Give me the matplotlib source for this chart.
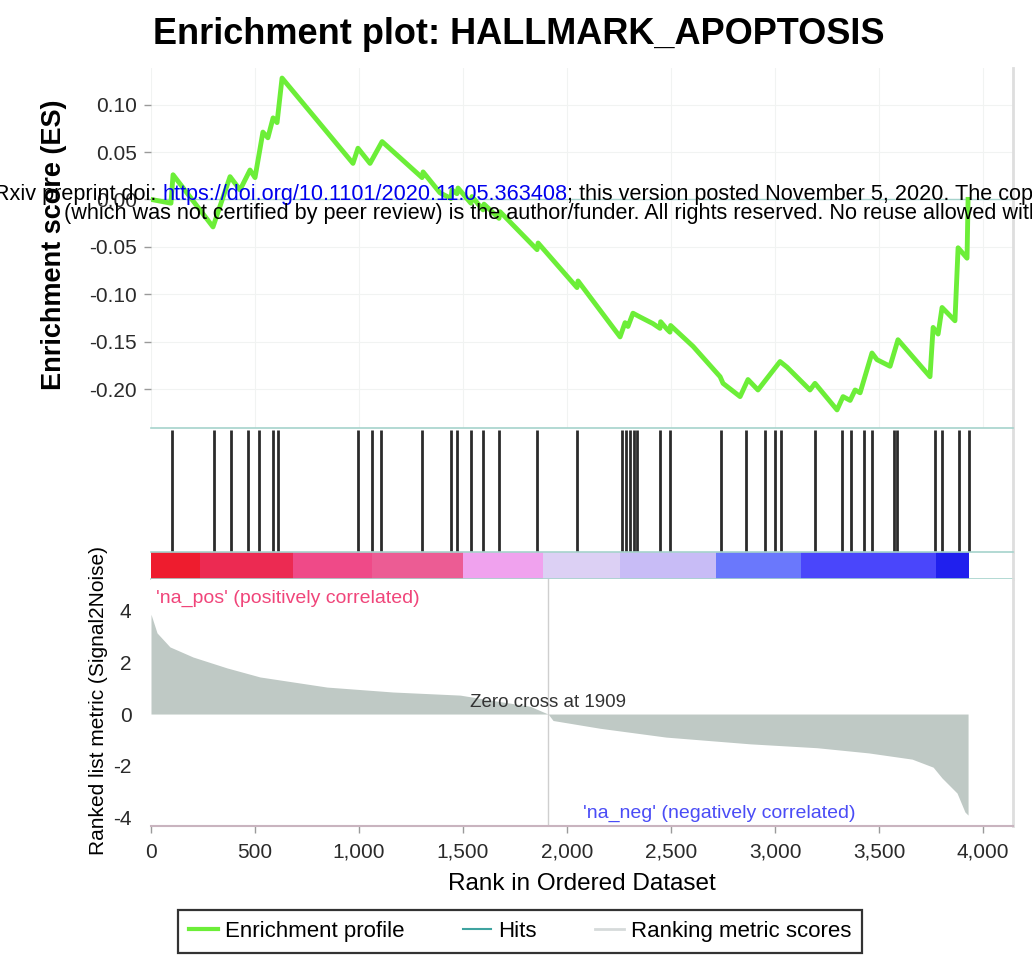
import matplotlib
matplotlib.use("Agg")
import matplotlib.pyplot as plt
from matplotlib.lines import Line2D

plt.rcParams['font.family'] = ['Liberation Sans', 'DejaVu Sans']

# ---------------- data ----------------
# running enrichment score (rank, ES) at the turning points of the curve
es_rank = [0, 96, 106, 298, 380, 428, 476, 500, 538, 562, 587, 606, 630,
           971, 995, 1053, 1111, 1303, 1308, 1389, 1442, 1447, 1471, 1476,
           1538, 1543, 1596, 1601, 1673, 1678, 1856, 1861, 2048, 2053,
           2255, 2279, 2293, 2317, 2351, 2413, 2447, 2450, 2481, 2495, 2498,
           2606, 2736, 2750, 2832, 2870, 2918, 3024, 3058, 3168, 3192, 3298,
           3327, 3361, 3385, 3409, 3466, 3490, 3553, 3591, 3745, 3760, 3784,
           3803, 3865, 3880, 3923, 3928]
es_score = [0.000, -0.004, 0.026, -0.029, 0.024, 0.010, 0.031, 0.023, 0.071,
            0.065, 0.086, 0.081, 0.128,
            0.038, 0.054, 0.038, 0.061, 0.023, 0.029, 0.007, 0.001, 0.010,
            0.006, 0.012, -0.004, 0.003, -0.011, -0.005, -0.020, -0.013,
            -0.053, -0.046, -0.093, -0.086,
            -0.145, -0.130, -0.134, -0.120, -0.124, -0.131, -0.136, -0.129,
            -0.137, -0.140, -0.133,
            -0.155, -0.187, -0.194, -0.208, -0.190, -0.201, -0.171, -0.177,
            -0.201, -0.194, -0.222,
            -0.208, -0.212, -0.201, -0.204, -0.162, -0.169, -0.176, -0.148,
            -0.187, -0.135, -0.142,
            -0.114, -0.128, -0.051, -0.062, 0.000]

# positions of the gene-set members in the ranked list
hit_ranks = [101, 303, 385, 466, 519, 587, 611, 995, 1063, 1106, 1303, 1442,
             1471, 1538, 1596, 1673, 1856, 2048, 2264, 2284, 2303, 2322,
             2337, 2447, 2495, 2740, 2861, 2952, 3000, 3029, 3192, 3322,
             3365, 3428, 3466, 3572, 3587, 3769, 3803, 3885, 3933]

# ranked list metric (Signal2Noise) along the ordered dataset
metric_rank = [0, 29, 91, 202, 365, 524, 846, 1163, 1486, 1678, 1822, 1909,
               1933, 2159, 2476, 2880, 3202, 3450, 3659, 3760, 3803, 3875,
               3913, 3928]
metric_value = [3.85, 3.13, 2.59, 2.20, 1.78, 1.43, 1.04, 0.85, 0.73, 0.48,
                0.30, 0.0,
                -0.25, -0.55, -0.89, -1.15, -1.30, -1.50, -1.74, -2.05,
                -2.47, -3.05, -3.78, -3.90]

# heat-map bands under the hits (red = positive metric, blue = negative)
band_edges = [0, 236, 683, 1062, 1500, 1885, 2255, 2716, 3125, 3774, 3933]
band_colors = ['#ee1c2e', '#ec2a52', '#ef4a88', '#ec5c94', '#f0a2ee',
               '#dcd0f4', '#c8bcf6', '#6a78fc', '#4a46fb', '#2020ee']

zero_cross = 1909
es_ticks = [-0.20, -0.15, -0.10, -0.05, 0.00, 0.05, 0.10]
metric_ticks = [-4, -2, 0, 2, 4]
rank_ticks = [0, 500, 1000, 1500, 2000, 2500, 3000, 3500, 4000]
rank_tick_labels = ['0', '500', '1,000', '1,500', '2,000', '2,500', '3,000',
                    '3,500', '4,000']

# ---------------- layout helpers ----------------
W, H = 1032, 968
fig = plt.figure(figsize=(W / 100, H / 100), dpi=100)


def add_px_axes(left, top, right, bottom):
    return fig.add_axes([left / W, 1 - bottom / H,
                         (right - left) / W, (bottom - top) / H])


LEFT, RIGHT = 151, 1013
XMAX = 4144
EDGE = '#a6d3cc'
TICKCOL = '#9a9a9a'
LABCOL = '#2a2a2a'


def style_frame(ax):
    for side in ('left', 'top', 'bottom'):
        ax.spines[side].set_visible(False)
    ax.spines['right'].set_color('#dedede')
    ax.spines['right'].set_linewidth(2)


# ---------------- enrichment score panel ----------------
ax_es = add_px_axes(LEFT, 68, RIGHT, 428)
ax_es.set_xlim(0, XMAX)
ax_es.set_ylim(-0.2411, 0.1386)
style_frame(ax_es)
ax_es.grid(True, color='#f1f3f2', lw=0.8)
ax_es.set_axisbelow(True)
ax_es.axhline(0, color=EDGE, lw=1.0, zorder=1)
ax_es.plot(es_rank, es_score, color='#6cee38', lw=3.5, zorder=3,
           solid_joinstyle='round')
ax_es.set_yticks(es_ticks)
ax_es.set_yticklabels([f'{v:.2f}' for v in es_ticks])
ax_es.set_xticks([r for r in rank_ticks])
ax_es.tick_params(axis='x', length=0, labelbottom=False)
ax_es.tick_params(axis='y', length=5, width=1, color=TICKCOL, pad=5,
                  labelsize=15, labelcolor=LABCOL)
ax_es.set_ylabel('Enrichment score (ES)', fontsize=19.5, fontweight='bold')
ax_es.yaxis.set_label_coords(-(LEFT - 67) / (RIGHT - LEFT), 0.51)

# ---------------- hits panel ----------------
ax_hits = add_px_axes(LEFT, 428, RIGHT, 552)
ax_hits.set_xlim(0, XMAX)
ax_hits.set_ylim(0, 1)
style_frame(ax_hits)
ax_hits.spines['top'].set_visible(True)
ax_hits.spines['top'].set_color(EDGE)
ax_hits.spines['top'].set_linewidth(1.2)
ax_hits.vlines(hit_ranks, 0, 0.985, colors='#2b2b2b', lw=2.0)
ax_hits.set_xticks([])
ax_hits.set_yticks([])

# ---------------- colour band ----------------
ax_bar = add_px_axes(LEFT, 552, RIGHT, 579)
ax_bar.set_xlim(0, XMAX)
ax_bar.set_ylim(0, 1)
style_frame(ax_bar)
for side in ('top', 'bottom'):
    ax_bar.spines[side].set_visible(True)
    ax_bar.spines[side].set_color(EDGE)
    ax_bar.spines[side].set_linewidth(1.2)
widths = [b - a for a, b in zip(band_edges[:-1], band_edges[1:])]
ax_bar.bar(band_edges[:-1], [1] * len(widths), width=widths, align='edge',
           color=band_colors, linewidth=0)
ax_bar.set_xticks([])
ax_bar.set_yticks([])

# ---------------- ranked list metric panel ----------------
ax_m = add_px_axes(LEFT, 579, RIGHT, 826)
ax_m.set_xlim(0, XMAX)
ax_m.set_ylim(-4.32, 5.21)
style_frame(ax_m)
ax_m.spines['bottom'].set_visible(True)
ax_m.spines['bottom'].set_color('#c9b4bf')
ax_m.spines['bottom'].set_linewidth(1.5)
ax_m.fill_between(metric_rank, metric_value, 0, color='#bfc9c5', lw=0)
ax_m.axvline(zero_cross, color='#cfcfcf', lw=1.0)
ax_m.set_yticks(metric_ticks)
ax_m.set_yticklabels([str(v) for v in metric_ticks])
ax_m.set_xticks(rank_ticks)
ax_m.set_xticklabels(rank_tick_labels)
ax_m.tick_params(axis='y', length=0, pad=14, labelsize=15,
                 labelcolor=LABCOL)
ax_m.tick_params(axis='x', length=5, width=1, color=TICKCOL, pad=7,
                 labelsize=15, labelcolor=LABCOL)
ax_m.set_xlabel('Rank in Ordered Dataset', fontsize=17.5, labelpad=8)
ax_m.set_ylabel('Ranked list metric (Signal2Noise)', fontsize=15)
ax_m.yaxis.set_label_coords(-(LEFT - 108) / (RIGHT - LEFT), 0.51)

ax_m.text(zero_cross, 0.12, f'Zero cross at {zero_cross}', ha='center',
          va='bottom', fontsize=13.5, color='#333333')
ax_m.text(25, 4.48, "'na_pos' (positively correlated)", ha='left',
          va='center', fontsize=14, color='#f0457a')
ax_m.text(3385, -3.85, "'na_neg' (negatively correlated)", ha='right',
          va='center', fontsize=14, color='#4a4cf6')

# ---------------- title ----------------
fig.text(519 / W, 1 - 44 / H, 'Enrichment plot: HALLMARK_APOPTOSIS',
         ha='center', va='baseline', fontsize=26, fontweight='bold')

# ---------------- legend ----------------
handles = [Line2D([], [], color='#6cee38', lw=3),
           Line2D([], [], color='#3fa3a0', lw=1.5),
           Line2D([], [], color='#d6dada', lw=2)]
labels = ['Enrichment profile', 'Hits', 'Ranking metric scores']
leg = fig.legend(handles, labels, loc='center', ncol=3, mode='expand',
                 bbox_to_anchor=(178 / W, 1 - 955 / H, 684 / W, 47 / H),
                 fontsize=16, frameon=True, fancybox=False,
                 handlelength=1.3, handletextpad=0.3, borderpad=0.5,
                 borderaxespad=0)
leg.get_frame().set_edgecolor('black')
leg.get_frame().set_linewidth(1.6)

# ---------------- preprint banner ----------------
fig.canvas.draw()
renderer = fig.canvas.get_renderer()
banner = dict(fontsize=15.6, va='baseline', zorder=10)
y1 = 1 - 200 / H
y2 = 1 - 219 / H
fig.text(162 / W, y1, 'bioRxiv preprint doi: ', ha='right', color='black',
         **banner)
url = fig.text(162 / W, y1, 'https://doi.org/10.1101/2020.11.05.363408',
               ha='left', color='#0000ee', **banner)
url_end = url.get_window_extent(renderer).x1
fig.text(url_end / W, y1,
         '; this version posted November 5, 2020. The copyright holder '
         'for this preprint', ha='left', color='black', **banner)
fig.text(64 / W, y2,
         '(which was not certified by peer review) is the author/funder. '
         'All rights reserved. No reuse allowed without permission.',
         ha='left', color='black', **banner)

fig.savefig('out.png', dpi=100, facecolor='white')
